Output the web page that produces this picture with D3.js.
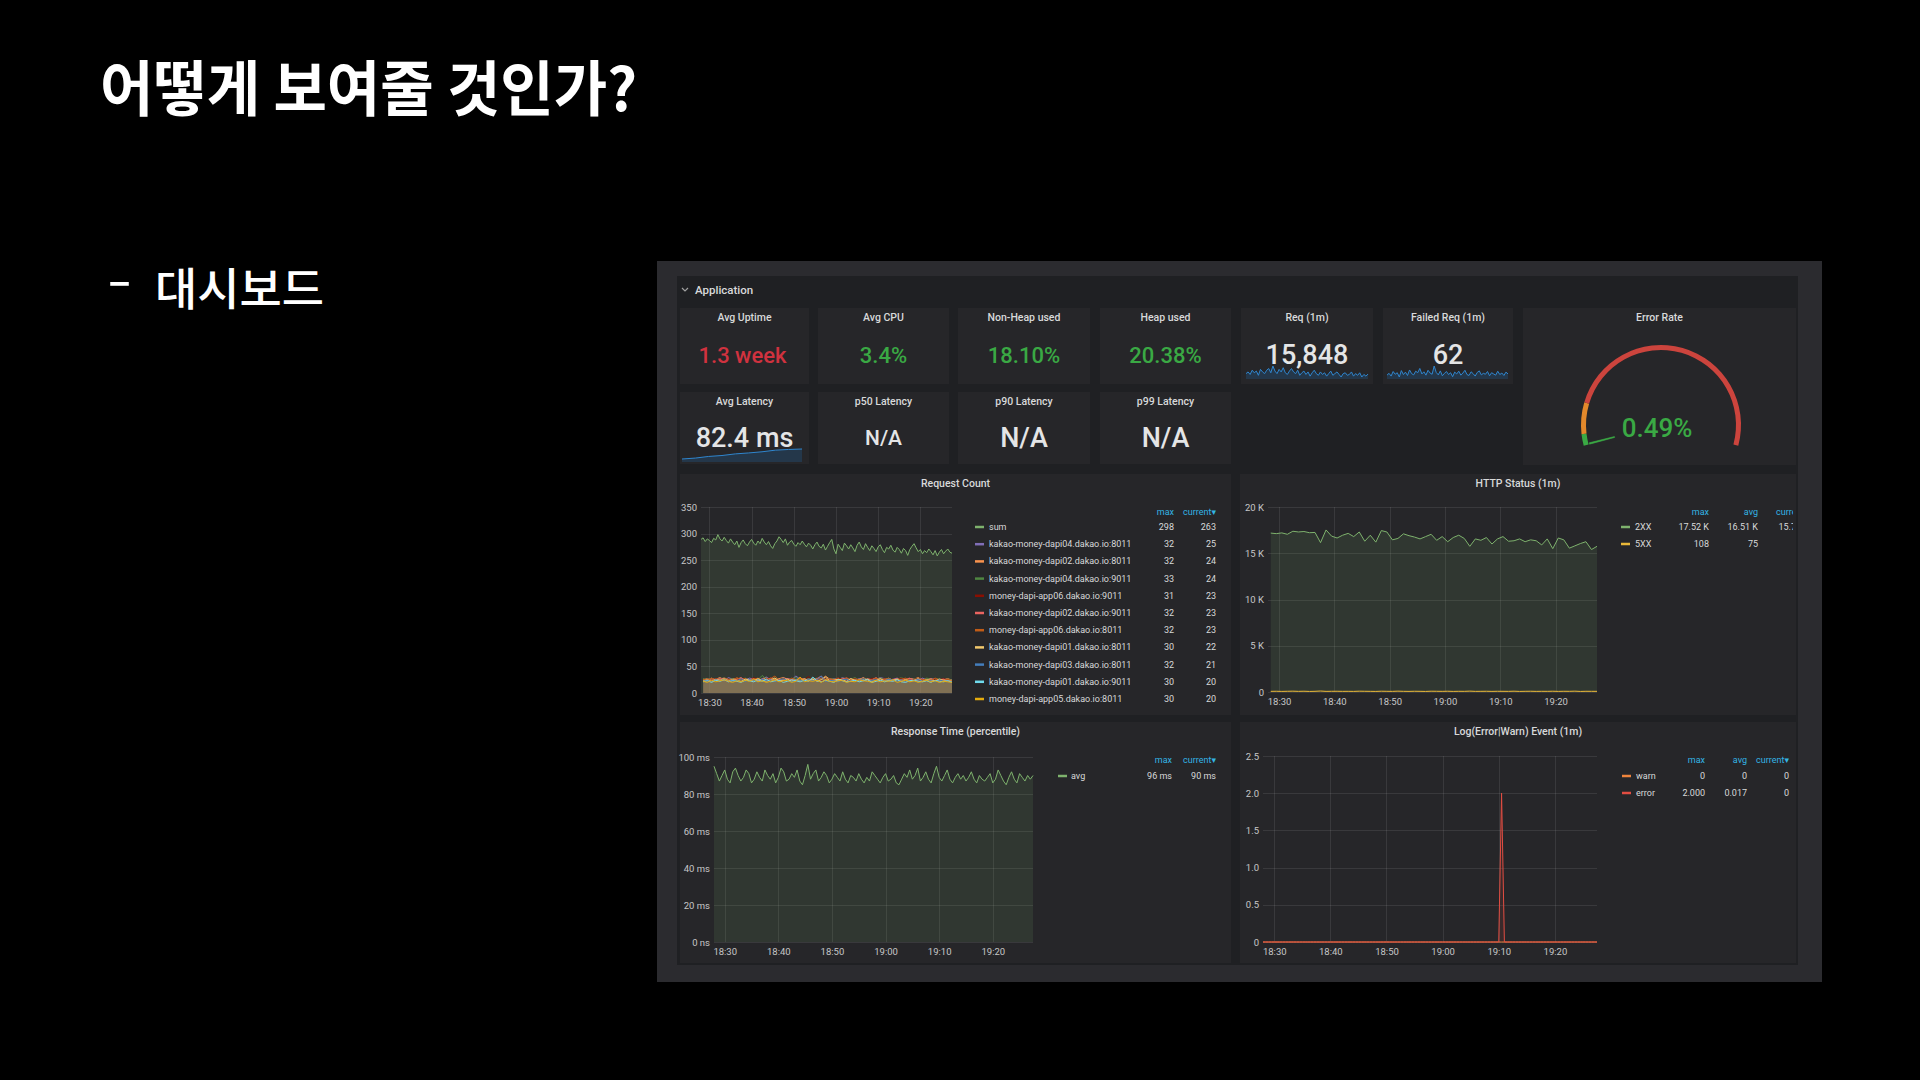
<!DOCTYPE html>
<html><head><meta charset="utf-8">
<script src="https://cdn.jsdelivr.net/npm/d3@7"></script>
<style>html,body{margin:0;padding:0;background:#000;}svg{display:block;}</style>
</head><body>
<svg id="c" width="1920" height="1080"></svg>
<script>
// ---------------- DATA ----------------
const slideTitle = "어떻게 보여줄 것인가?";
const slideBulletDash = "-";
const slideBullet = "대시보드";
const rowTitle = "Application";

const statTitles = ["Avg Uptime","Avg CPU","Non-Heap used","Heap used","Req (1m)","Failed Req (1m)","Avg Latency","p50 Latency","p90 Latency","p99 Latency"];
const statValues = ["1.3 week","3.4%","18.10%","20.38%","15,848","62","82.4 ms","N/A","N/A","N/A"];
const statState  = ["bad","ok","ok","ok","plain","plain","plain","plain","plain","plain"];

const reqSpark = [15900,16100,15800,16300,16000,16200,15700,16400,16100,15900,
16300,16500,16000,16800,16200,15900,16400,16100,16600,16000,
15800,16200,16500,16100,15900,16300,15700,16000,16200,15800,
16100,15600,16000,16300,15900,15700,16100,15800,16000,15600,
15900,16200,15700,15900,16100,15800,15500,15900,16000,15700,
15800,16100,15600,15900,15700,16000,15500,15800,15600,15848];
const failedSpark = [58,64,55,70,61,66,52,73,60,68,
57,75,63,59,71,66,80,62,69,58,
74,65,61,88,67,59,72,56,64,70,
60,66,53,68,62,71,58,65,74,60,
57,69,63,55,67,72,59,64,61,70,
56,66,62,58,71,60,65,57,68,62];
const latencySpark = [78.1,78.5,79.2,79.6,80.3,80.7,81.2,81.9,82.2,82.4];

const gaugeTitle = "Error Rate";
const gaugeValue = 0.49;
const gaugeLabel = "0.49%";
const gaugeMin = 0, gaugeMax = 100;
const gaugeThresholds = [4, 15];

// Request Count (30s resolution)
const reqSum = [289,292,285,290,287,283,291,288,298,290,286,293,
287,282,290,284,279,286,274,283,288,281,277,284,
289,282,278,286,281,291,284,279,285,277,272,281,
286,294,289,283,290,278,284,287,280,276,283,279,
286,280,275,282,278,271,279,284,276,273,280,269,
276,283,289,271,262,280,274,268,282,277,271,279,
273,266,278,284,275,270,281,274,268,277,272,266,
275,279,270,264,274,271,278,269,265,274,270,263,
272,268,259,270,276,281,273,266,270,262,268,264,
271,266,260,268,258,265,270,262,267,271,265,263];
// per-instance (1m resolution)
const inst01 = [26,24,28,25,27,23,29,26,24,27,25,28,26,23,27,30,25,26,24,28,27,25,32,26,24,27,25,23,28,26,25,27,24,29,26,25,23,27,28,24,26,25,29,27,24,26,28,25,23,27,26,24,28,25,27,26,24,26,23,25];
const inst02 = [25,27,24,26,29,25,23,27,26,28,24,25,27,23,26,28,25,24,27,29,26,24,25,28,23,26,27,25,24,32,26,25,28,24,23,27,26,25,29,24,26,23,27,25,28,24,26,25,23,27,26,29,24,25,27,23,26,25,27,24];
const inst03 = [27,25,28,24,26,29,25,27,23,26,28,24,27,25,33,26,24,28,25,27,23,26,29,25,24,27,26,28,25,23,27,26,24,28,25,26,29,24,27,25,23,26,28,25,27,24,26,29,25,23,27,26,24,28,26,25,27,23,26,24];
const inst04 = [24,26,23,27,25,28,24,22,26,25,27,23,29,25,24,26,28,23,25,27,24,26,22,28,25,31,24,26,23,27,25,24,28,26,23,25,27,24,26,22,28,25,24,27,23,26,25,28,24,23,26,27,25,24,22,26,25,27,24,23];
const inst05 = [25,23,27,24,26,28,25,23,26,29,24,25,27,23,26,25,28,24,26,23,27,25,24,28,26,23,25,27,32,24,26,25,23,27,28,24,25,26,23,27,25,29,24,26,23,25,27,24,26,28,23,25,26,24,27,23,25,26,24,23];
const inst06 = [26,24,28,25,23,27,26,24,29,25,27,23,26,28,24,25,27,32,24,26,23,28,25,27,24,26,23,25,28,24,27,25,26,23,29,24,26,25,27,23,25,28,24,26,27,23,25,26,28,24,23,27,25,26,24,28,25,23,26,23];
const inst07 = [23,25,22,26,24,27,23,25,24,22,26,25,23,27,24,22,25,28,23,24,26,22,25,23,27,24,26,22,25,30,23,24,26,25,22,27,24,23,25,26,22,24,27,23,25,24,26,22,25,23,24,27,22,25,24,23,26,24,23,22];
const inst08 = [22,24,21,25,23,26,22,24,23,27,22,25,24,21,26,23,25,22,24,27,23,21,25,24,22,26,23,25,32,22,24,23,21,25,26,22,24,23,27,21,24,25,22,23,26,24,22,25,21,24,23,26,22,24,23,21,25,22,23,21];
const inst09 = [21,23,20,24,22,25,21,23,22,20,24,23,21,25,22,26,21,23,24,20,22,25,23,21,24,22,30,23,21,24,22,20,25,23,21,22,24,21,23,25,20,22,24,21,23,22,25,21,20,23,24,22,21,23,20,24,22,21,23,20];
const inst10 = [22,20,24,21,23,25,22,20,23,21,24,22,26,21,23,20,22,25,21,23,24,20,22,30,21,23,22,24,20,25,22,21,23,24,20,22,21,25,23,22,20,24,21,23,22,25,20,22,24,21,23,20,22,24,21,23,20,22,21,20];
const reqNames = ["sum","kakao-money-dapi04.dakao.io:8011","kakao-money-dapi02.dakao.io:8011","kakao-money-dapi04.dakao.io:9011","money-dapi-app06.dakao.io:9011","kakao-money-dapi02.dakao.io:9011","money-dapi-app06.dakao.io:8011","kakao-money-dapi01.dakao.io:8011","kakao-money-dapi03.dakao.io:8011","kakao-money-dapi01.dakao.io:9011","money-dapi-app05.dakao.io:8011"];
const reqMax = ["298","32","32","33","31","32","32","30","32","30","30"];
const reqCurrent = ["263","25","24","24","23","23","23","22","21","20","20"];

// HTTP Status (1m)
const http2xx = [17180,17120,17200,17050,17380,17300,17350,17220,17250,16150,
17520,16850,16650,16950,17150,16800,17300,16300,16950,16200,
17450,17300,16450,16600,17100,16900,16750,16550,16800,17050,
16400,16800,16250,16700,16950,16600,15750,16550,16400,16700,
16000,16550,16800,16300,16350,16550,16250,16450,16350,15900,
16550,15500,16650,16450,15550,15800,16050,16250,15400,15750];
const http5xx = [72,80,65,78,90,70,84,62,75,108,68,77,81,70,74,66,88,79,71,63,85,76,69,92,73,67,80,74,61,86,78,70,83,65,77,72,95,68,74,81,66,79,73,70,87,64,76,82,69,75,71,84,67,78,73,90,62,77,74,72];
const httpNames = ["2XX","5XX"];
const httpMax = ["17.52 K","108"];
const httpAvg = ["16.51 K","75"];
const httpCurrent = ["15.75 K","72"];

// Response Time (30s)
const respAvg = [95,91,87,90,93,88,86,92,94,90,87,89,93,91,86,88,92,89,87,93,
90,88,91,86,89,94,92,87,88,91,89,93,87,85,90,96,88,91,93,87,
89,92,90,86,88,91,89,87,92,88,86,90,89,87,91,88,86,89,87,92,
90,88,86,89,91,87,88,90,86,85,88,91,89,93,88,90,94,87,89,92,
88,86,91,95,89,87,90,93,88,86,89,91,88,90,87,89,92,88,86,90,
88,87,89,91,86,88,93,90,87,85,89,92,88,86,91,89,87,90,88,90];
const respNames = ["avg"];
const respMax = ["96 ms"];
const respCurrent = ["90 ms"];

// Log(Error|Warn) Event (30s)
const logWarn = [0,0,0,0,0,0,0,0,0,0,0,0,0,0,0,0,0,0,0,0,
0,0,0,0,0,0,0,0,0,0,0,0,0,0,0,0,0,0,0,0,
0,0,0,0,0,0,0,0,0,0,0,0,0,0,0,0,0,0,0,0,
0,0,0,0,0,0,0,0,0,0,0,0,0,0,0,0,0,0,0,0,
0,0,0,0,0,0,0,0,0,0,0,0,0,0,0,0,0,0,0,0,
0,0,0,0,0,0,0,0,0,0,0,0,0,0,0,0,0,0,0,0];
const logError = [0,0,0,0,0,0,0,0,0,0,0,0,0,0,0,0,0,0,0,0,
0,0,0,0,0,0,0,0,0,0,0,0,0,0,0,0,0,0,0,0,
0,0,0,0,0,0,0,0,0,0,0,0,0,0,0,0,0,0,0,0,
0,0,0,0,0,0,0,0,0,0,0,0,0,0,0,0,0,0,0,0,
0,0,0,0,0,2,0,0,0,0,0,0,0,0,0,0,0,0,0,0,
0,0,0,0,0,0,0,0,0,0,0,0,0,0,0,0,0,0,0,0];
const logNames = ["warn","error"];
const logMax = ["0","2.000"];
const logAvg = ["0","0.017"];
const logCurrent = ["0","0"];

const yTicksReq = [0,50,100,150,200,250,300,350];
const yTicksHttp = [0,5000,10000,15000,20000];
const yTicksResp = [0,20,40,60,80,100];
const yTicksLog = [0,0.5,1,1.5,2,2.5];

// ---------------- STYLE / LAYOUT ----------------
const UI = "Roboto, 'Noto Sans', 'DejaVu Sans', sans-serif";
const KR = "'Noto Sans CJK KR', 'Noto Sans CJK SC', sans-serif";
const FRAME = "#2b2b2f", DASH = "#1f2023", PANEL = "#262629";
const TXT = "#d8d9da", AXIS = "#c6c7c8", LINK = "#33b5e5";
const GREEN = "#3aa944", RED = "#d0323f", ORANGE = "#e3892b", ARCRED = "#cc443d";
const reqColors = ["#7EB26D","#806EB7","#F9934E","#508642","#890F02","#EA6460","#C15C17","#F2C96D","#447EBC","#70DBED","#E5AC0E"];

const svg = d3.select("#c");
svg.append("rect").attr("width",1920).attr("height",1080).attr("fill","#000");

// slide text
svg.append("text").attr("x",100).attr("y",111).attr("font-family",KR).attr("font-weight",700)
  .attr("font-size",60).attr("fill","#fff").attr("textLength",537).attr("lengthAdjust","spacingAndGlyphs").text(slideTitle);
svg.append("text").attr("x",107).attr("y",296).attr("font-family",KR).attr("font-weight",500)
  .attr("font-size",44).attr("fill","#fff").attr("textLength",25).attr("lengthAdjust","spacingAndGlyphs").text(slideBulletDash);
svg.append("text").attr("x",155).attr("y",306).attr("font-family",KR).attr("font-weight",500)
  .attr("font-size",45).attr("fill","#fff").attr("textLength",169).attr("lengthAdjust","spacingAndGlyphs").text(slideBullet);

// frame + dashboard
svg.append("rect").attr("x",657).attr("y",261).attr("width",1165).attr("height",721).attr("fill",FRAME);
svg.append("rect").attr("x",677).attr("y",276).attr("width",1121).attr("height",689).attr("fill",DASH);

// row header
svg.append("path").attr("d","M682,288 l3,3 l3,-3").attr("fill","none").attr("stroke","#a0a0a0").attr("stroke-width",1.2);
svg.append("text").attr("x",695).attr("y",290).attr("dominant-baseline","central").attr("font-family",UI)
  .attr("font-size",11.5).attr("font-weight",500).attr("fill",TXT).text(rowTitle);

function rect(b, fill){
  return svg.append("rect").attr("x",b[0]).attr("y",b[1]).attr("width",b[2]).attr("height",b[3]).attr("fill",fill||PANEL);
}

// stat panels
const statBoxes = [[680,308,129,76],[818,308,131,76],[958,308,132,76],[1100,308,131,76],[1241,308,132,76],[1383,308,130,76],
                   [680,392,129,72],[818,392,131,72],[958,392,132,72],[1100,392,131,72]];
const statFont = [22,22,22,22,27,27,27,21,27,27];
const stateColor = {bad:RED, ok:GREEN, plain:"#e4e5e6"};

function spark(values, x0, x1, yLo, yHi, yBottom){
  const xs = d3.scaleLinear().domain([0, values.length-1]).range([x0, x1]);
  const ys = d3.scaleLinear().domain(d3.extent(values)).range([yLo, yHi]);
  svg.append("path").datum(values).attr("d", d3.area().x((d,i)=>xs(i)).y0(yBottom).y1(d=>ys(d)))
    .attr("fill","rgba(31,118,189,0.22)");
  svg.append("path").datum(values).attr("d", d3.line().x((d,i)=>xs(i)).y(d=>ys(d)))
    .attr("fill","none").attr("stroke","#2f86cf").attr("stroke-width",1);
}
statBoxes.forEach((b,i)=>{ rect(b); });
spark(reqSpark, 1246, 1368, 377, 366, 379);
spark(failedSpark, 1387, 1508, 377, 366, 379);
spark(latencySpark, 682, 802, 459, 449, 462);

statBoxes.forEach((b,i)=>{
  const cx = b[0] + b[2]/2;
  svg.append("text").attr("x",cx).attr("y",b[1]+9).attr("text-anchor","middle").attr("dominant-baseline","central")
    .attr("font-family",UI).attr("font-size",10.5).attr("font-weight",500).attr("fill",TXT).text(statTitles[i]);
  svg.append("text").attr("x",cx - (i===0 ? 2 : 0)).attr("y",b[1]+ (i<6 ? 47 : 46)).attr("text-anchor","middle").attr("dominant-baseline","central")
    .attr("font-family",UI).attr("font-size",statFont[i]).attr("font-weight",500)
    .attr("fill",stateColor[statState[i]]).text(statValues[i]);
});

// gauge panel
const gBox = [1523,308,273,157];
rect(gBox);
svg.append("text").attr("x",gBox[0]+gBox[2]/2).attr("y",317).attr("text-anchor","middle").attr("dominant-baseline","central")
  .attr("font-family",UI).attr("font-size",10.5).attr("font-weight",500).attr("fill",TXT).text(gaugeTitle);
const gc = [1661, 425];
const ang = d3.scaleLinear().domain([gaugeMin, gaugeMax]).range([-105*Math.PI/180, 105*Math.PI/180]);
const bands = [[gaugeMin, gaugeThresholds[0], GREEN],[gaugeThresholds[0], gaugeThresholds[1], ORANGE],[gaugeThresholds[1], gaugeMax, ARCRED]];
const gArc = d3.arc().innerRadius(75).outerRadius(80);
const gg = svg.append("g").attr("transform",`translate(${gc[0]},${gc[1]})`);
gg.selectAll("path.band").data(bands).join("path").attr("class","band")
  .attr("d", d=>gArc({startAngle:ang(d[0]), endAngle:ang(d[1])})).attr("fill", d=>d[2]);
gg.append("path").attr("d", d3.arc().innerRadius(48).outerRadius(74)({startAngle:ang(gaugeMin), endAngle:ang(gaugeValue)}))
  .attr("fill",GREEN).attr("stroke",GREEN).attr("stroke-width",0.6);
svg.append("text").attr("x",1657).attr("y",428).attr("text-anchor","middle").attr("dominant-baseline","central")
  .attr("font-family",UI).attr("font-size",26).attr("font-weight",500).attr("fill",GREEN).text(gaugeLabel);

// ---------------- GRAPH PANELS ----------------
const T0 = new Date(2020,0,1,18,28,0);
const T1 = new Date(2020,0,1,19,27,30);
const t30 = n => d3.range(n).map(i => new Date(+T0 + i*30000));
const t60 = n => d3.range(n).map(i => new Date(+T0 + 30000 + i*60000));

function graph(cfg){
  const [bx,by,bw,bh] = cfg.box;
  rect(cfg.box);
  const g = svg.append("g");
  g.append("text").attr("x",bx+bw/2).attr("y",by+9).attr("text-anchor","middle").attr("dominant-baseline","central")
    .attr("font-family",UI).attr("font-size",10.5).attr("font-weight",500).attr("fill",TXT).text(cfg.title);
  const p = cfg.plot;
  const x = d3.scaleTime().domain([T0,T1]).range([p[0],p[2]]);
  const y = d3.scaleLinear().domain([cfg.yTicks[0], cfg.yTicks[cfg.yTicks.length-1]]).range([p[3],p[1]]);
  const xt = x.ticks(d3.timeMinute.every(10));
  g.append("g").selectAll("line").data(cfg.yTicks).join("line")
    .attr("x1",p[0]).attr("x2",p[2]).attr("y1",d=>Math.round(y(d))+0.5).attr("y2",d=>Math.round(y(d))+0.5)
    .attr("stroke","rgba(255,255,255,0.09)");
  g.append("g").selectAll("line").data(xt).join("line")
    .attr("x1",d=>Math.round(x(d))+0.5).attr("x2",d=>Math.round(x(d))+0.5).attr("y1",p[1]).attr("y2",p[3])
    .attr("stroke","rgba(255,255,255,0.09)");
  cfg.series.forEach(s=>{
    const pts = s.values.map((v,i)=>[s.times[i], v]);
    if (s.fill) g.append("path").datum(pts)
      .attr("d", d3.area().x(d=>x(d[0])).y0(y(0)).y1(d=>y(d[1]))).attr("fill",s.color).attr("fill-opacity",s.fill);
    g.append("path").datum(pts).attr("d", d3.line().x(d=>x(d[0])).y(d=>y(d[1])))
      .attr("fill","none").attr("stroke",s.color).attr("stroke-width",1);
  });
  const ax = g.append("g").attr("transform",`translate(0,${p[3]})`)
    .call(d3.axisBottom(x).ticks(d3.timeMinute.every(10)).tickFormat(d3.timeFormat("%H:%M")).tickSize(0).tickPadding(6));
  const ay = g.append("g").attr("transform",`translate(${p[0]},0)`)
    .call(d3.axisLeft(y).tickValues(cfg.yTicks).tickFormat(cfg.yFmt).tickSize(0).tickPadding(4));
  [ax,ay].forEach(a=>{ a.select(".domain").remove();
    a.selectAll("text").attr("fill",AXIS).attr("font-size",9.5).attr("font-family",UI); a.attr("font-family",UI); });

  // legend
  const L = cfg.legend;
  const lg = g.append("g");
  if (L.clip){
    const id = "clip"+Math.round(bx)+Math.round(by);
    svg.append("clipPath").attr("id",id).append("rect").attr("x",bx).attr("y",by).attr("width",L.clip-bx).attr("height",bh);
    lg.attr("clip-path",`url(#${id})`);
  }
  L.cols.forEach(c=>{
    lg.append("text").attr("x",c.right).attr("y",L.headY).attr("text-anchor","end").attr("dominant-baseline","central")
      .attr("font-family",UI).attr("font-size",9).attr("fill",LINK).text(c.label);
  });
  L.names.forEach((n,i)=>{
    const ry = L.rowY + i*L.step;
    lg.append("line").attr("x1",L.mx).attr("x2",L.mx+9).attr("y1",ry).attr("y2",ry)
      .attr("stroke",L.colors[i]).attr("stroke-width",2.5);
    lg.append("text").attr("x",L.tx).attr("y",ry).attr("dominant-baseline","central")
      .attr("font-family",UI).attr("font-size",9).attr("fill",TXT).text(n);
    L.cols.forEach(c=>{
      lg.append("text").attr("x",c.right).attr("y",ry).attr("text-anchor","end").attr("dominant-baseline","central")
        .attr("font-family",UI).attr("font-size",9).attr("fill",TXT).text(c.values[i]);
    });
  });
}

const instSeries = [inst01,inst02,inst03,inst04,inst05,inst06,inst07,inst08,inst09,inst10];
graph({
  box:[680,474,551,241], title:"Request Count", plot:[701,507,952,693],
  yTicks:yTicksReq, yFmt:d=>String(d),
  series:[{values:reqSum, times:t30(reqSum.length), color:reqColors[0], fill:0.14}]
    .concat(instSeries.map((v,i)=>({values:v, times:t60(v.length), color:reqColors[i+1], fill:0.11}))),
  legend:{headY:512, rowY:527, step:17.2, mx:975, tx:989, names:reqNames, colors:reqColors,
    cols:[{label:"max", right:1174, values:reqMax},{label:"current▾", right:1216, values:reqCurrent}]}
});
graph({
  box:[1240,474,556,241], title:"HTTP Status (1m)", plot:[1268,507,1597,692],
  yTicks:yTicksHttp, yFmt:d=> d===0 ? "0" : (d/1000)+" K",
  series:[{values:http2xx, times:t60(http2xx.length), color:"#7EB26D", fill:0.12},
          {values:http5xx, times:t60(http5xx.length), color:"#EAB839", fill:0.12}],
  legend:{headY:512, rowY:527, step:17, mx:1621, tx:1635, names:httpNames, colors:["#7EB26D","#EAB839"], clip:1793,
    cols:[{label:"max", right:1709, values:httpMax},{label:"avg", right:1758, values:httpAvg},{label:"current▾", right:1809, values:httpCurrent}]}
});
graph({
  box:[680,722,551,241], title:"Response Time (percentile)", plot:[714,757,1033,942],
  yTicks:yTicksResp, yFmt:d=> d===0 ? "0 ns" : d+" ms",
  series:[{values:respAvg, times:t30(respAvg.length), color:"#7EB26D", fill:0.12}],
  legend:{headY:760, rowY:776, step:17, mx:1058, tx:1071, names:respNames, colors:["#7EB26D"],
    cols:[{label:"max", right:1172, values:respMax},{label:"current▾", right:1216, values:respCurrent}]}
});
graph({
  box:[1240,722,556,241], title:"Log(Error|Warn) Event (1m)", plot:[1263,756,1597,942],
  yTicks:yTicksLog, yFmt:d=> d===0 ? "0" : d.toFixed(1),
  series:[{values:logWarn, times:t30(logWarn.length), color:"#EF843C", fill:0.1},
          {values:logError, times:t30(logError.length), color:"#E24D42", fill:0.1}],
  legend:{headY:760, rowY:776, step:17, mx:1622, tx:1636, names:logNames, colors:["#EF843C","#E24D42"],
    cols:[{label:"max", right:1705, values:logMax},{label:"avg", right:1747, values:logAvg},{label:"current▾", right:1789, values:logCurrent}]}
});
</script>
</body></html>
